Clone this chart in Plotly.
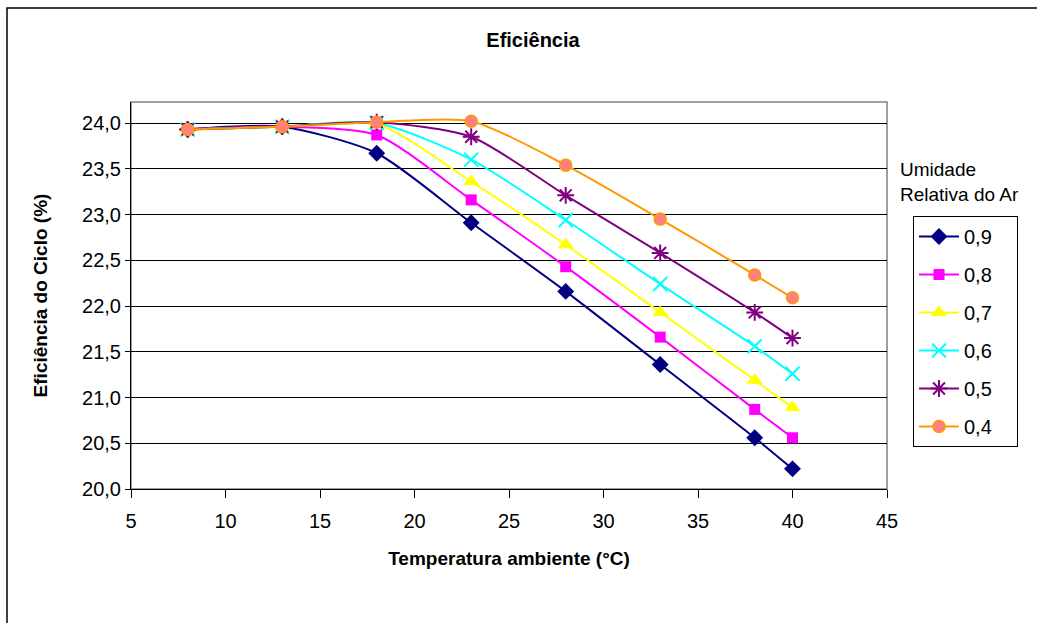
import plotly.graph_objects as go

temps = [8, 13, 18, 23, 28, 33, 38, 40]
labels = ["0,9", "0,8", "0,7", "0,6", "0,5", "0,4"]
ur09 = [23.93, 23.96, 23.67, 22.91, 22.16, 21.36, 20.56, 20.22]
ur08 = [23.93, 23.96, 23.87, 23.16, 22.43, 21.66, 20.87, 20.56]
ur07 = [23.93, 23.96, 23.99, 23.36, 22.67, 21.93, 21.19, 20.89]
ur06 = [23.93, 23.96, 24.00, 23.60, 22.94, 22.24, 21.56, 21.26]
ur05 = [23.93, 23.96, 24.01, 23.85, 23.21, 22.58, 21.93, 21.65]
ur04 = [23.93, 23.96, 24.01, 24.02, 23.54, 22.95, 22.34, 22.09]
series = [ur09, ur08, ur07, ur06, ur05, ur04]

line_colors = ["#000080", "#FF00FF", "#FFFF00", "#00FFFF", "#800080", "#FF9900"]
fill_colors = ["#000080", "#FF00FF", "#FFFF00", "#00FFFF", "#800080", "#FF8080"]
symbols = ["diamond", "square", "triangle-up", "x-thin-open", "asterisk-open", "circle"]
sizes = [13, 11, 14, 14, 14, 12]

FONT = "Liberation Sans, Arial, sans-serif"
PAD = "\u2002\u2009<span style='color:white'>.</span>"

fig = go.Figure()
for i, (lab, ys) in enumerate(zip(labels, series)):
    mline = dict(color=line_colors[i], width=2 if i in (3, 4) else (1.5 if i == 5 else 0))
    fig.add_trace(go.Scatter(
        x=temps, y=ys, name=lab + PAD, mode="lines+markers",
        line=dict(color=line_colors[i], width=2, shape="spline", smoothing=0.7),
        marker=dict(symbol=symbols[i], size=sizes[i], color=fill_colors[i], line=mline),
        legendgroup=lab,
    ))

W, H = 1037, 623
L, R, T, B = 131, 887, 102, 489

def px_x(px):
    return (px - L) / (R - L)

def px_y(py):
    return (B - py) / (B - T)

fig.update_layout(
    width=W, height=H,
    margin=dict(l=L, r=W - R, t=T, b=H - B),
    paper_bgcolor="white", plot_bgcolor="white",
    separators=",.",
    font=dict(family=FONT, size=20, color="black"),
    title=dict(text="<b>Eficiência</b>", x=533 / W, xanchor="center",
               y=1 - 40 / H, yanchor="middle", font=dict(size=20)),
    xaxis=dict(range=[5, 45], dtick=5, tick0=5, showgrid=False, zeroline=False,
               showline=True, linecolor="black", linewidth=1,
               ticks="outside", ticklen=8, tickcolor="black",
               ticklabelstandoff=6,
               tickfont=dict(size=20),
               title=dict(text="<b>Temperatura ambiente (°C)</b>", standoff=20,
                          font=dict(size=19))),
    yaxis=dict(range=[20, 24.23], dtick=0.5, tick0=20, tickformat=".1f",
               showgrid=True, gridcolor="black", gridwidth=1, zeroline=False,
               showline=True, linecolor="black", linewidth=1,
               ticks="outside", ticklen=5, tickcolor="black",
               tickfont=dict(size=20),
               title=dict(text="<b>Eficiência do Ciclo (%)</b>", standoff=29,
                          font=dict(size=19))),
    legend=dict(x=px_x(913), y=px_y(216), xanchor="left", yanchor="top",
                bordercolor="black", borderwidth=1, bgcolor="white",
                font=dict(size=20), tracegroupgap=9, itemwidth=40),
    showlegend=True,
)

fig.add_shape(type="rect", xref="paper", yref="paper", x0=0, x1=1, y0=0, y1=1,
              line=dict(color="#808080", width=1.5), layer="below")
fig.add_shape(type="rect", xref="paper", yref="paper",
              x0=px_x(7), x1=px_x(1045), y0=px_y(640), y1=px_y(8),
              line=dict(color="black", width=1.5), layer="below")

fig.add_annotation(xref="paper", yref="paper", x=px_x(898), y=px_y(157),
                   xanchor="left", yanchor="top", align="left", showarrow=False,
                   text="Umidade<br>Relativa do Ar", font=dict(size=19))

fig.write_html("out.html")
